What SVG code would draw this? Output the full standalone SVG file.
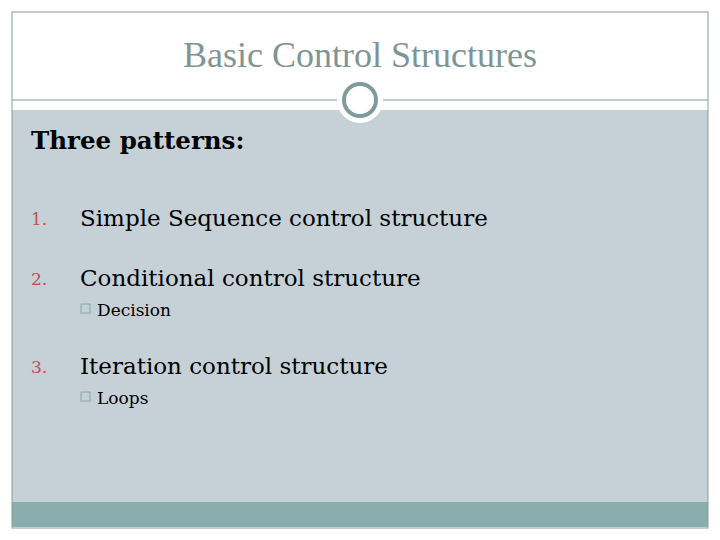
<svg xmlns="http://www.w3.org/2000/svg" width="720" height="540" viewBox="0 0 720 540">
<style>
text{font-family:"DejaVu Serif","Liberation Serif",serif}
text.title{font-family:"Liberation Serif",serif}
.num{fill:#c0504d;font-size:17px}
.item{fill:#000;font-size:23px}
.sub{fill:#000;font-size:17px}
.box{fill:none;stroke:#8aa;stroke-width:1}
</style>
<rect width="720" height="540" fill="#fff"/>
<rect x="12" y="110" width="696" height="392" fill="#c5d0d7"/>
<rect x="12" y="502" width="696" height="25" fill="#8aadad"/>
<rect x="12" y="12" width="696" height="516" fill="none" stroke="#8a9a9a" stroke-width="1"/>
<line x1="12" y1="100" x2="708" y2="100" stroke="#8a9a9a" stroke-width="1"/>
<g id="title"><text class="title" x="360" y="67" text-anchor="middle" font-size="36" fill="#7f9494">Basic Control Structures</text></g>
<g id="ornament"><circle cx="360" cy="100" r="23" fill="#fff"/><circle cx="360" cy="100" r="16" fill="none" stroke="#7f9a9a" stroke-width="4"/></g>
<g id="body">
<text x="31" y="149" font-size="24.5" font-weight="bold">Three patterns:</text>
<text class="num" x="31" y="225">1.</text>
<text class="item" x="80" y="226">Simple Sequence control structure</text>
<text class="num" x="31" y="285">2.</text>
<text class="item" x="80" y="286">Conditional control structure</text>
<rect class="box" x="81" y="304" width="9" height="9"/>
<text class="sub" x="97" y="316">Decision</text>
<text class="num" x="31" y="373">3.</text>
<text class="item" x="80" y="374">Iteration control structure</text>
<rect class="box" x="81" y="392" width="9" height="9"/>
<text class="sub" x="97" y="404">Loops</text>
</g>
</svg>
